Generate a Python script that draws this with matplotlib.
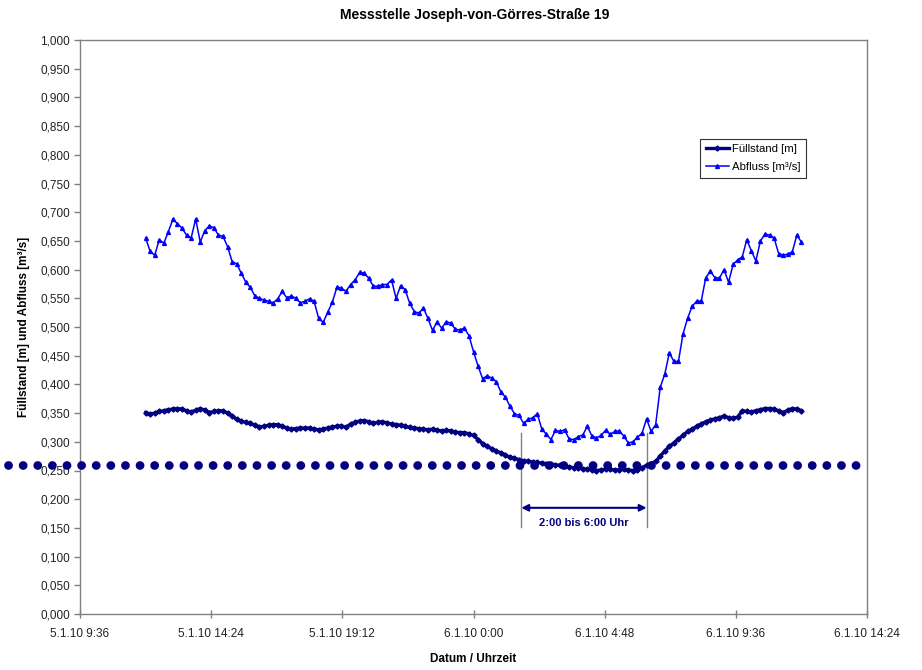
import numpy as np
import pandas as pd
import matplotlib
matplotlib.use("Agg")
import matplotlib.pyplot as plt
from matplotlib.ticker import FuncFormatter

plt.rcParams["font.family"] = ["Liberation Sans", "DejaVu Sans"]

# Messwerte im 10-Minuten-Raster, 5.1.10 12:00 bis 6.1.10 12:00
zeit = pd.date_range("2010-01-05 12:00", periods=145, freq="10min")

fuellstand = [
    0.351, 0.348, 0.350, 0.353, 0.354, 0.356, 0.357, 0.358, 0.357, 0.354,
    0.352, 0.355, 0.358, 0.355, 0.351, 0.353, 0.354, 0.354, 0.350, 0.345,
    0.339, 0.336, 0.334, 0.332, 0.329, 0.326, 0.327, 0.329, 0.330, 0.330,
    0.327, 0.324, 0.322, 0.323, 0.324, 0.324, 0.324, 0.322, 0.321, 0.322,
    0.324, 0.326, 0.327, 0.328, 0.325, 0.331, 0.334, 0.336, 0.337, 0.335,
    0.332, 0.334, 0.335, 0.333, 0.331, 0.330, 0.329, 0.327, 0.325, 0.324,
    0.323, 0.322, 0.321, 0.322, 0.320, 0.319, 0.320, 0.319, 0.317, 0.316,
    0.316, 0.314, 0.311, 0.304, 0.297, 0.292, 0.288, 0.284, 0.281, 0.277,
    0.273, 0.271, 0.269, 0.267, 0.266, 0.265, 0.264, 0.263, 0.262, 0.261,
    0.260, 0.259, 0.258, 0.256, 0.255, 0.254, 0.253, 0.252, 0.251, 0.250,
    0.251, 0.252, 0.252, 0.251, 0.251, 0.252, 0.251, 0.250, 0.251, 0.255,
    0.259, 0.262, 0.266, 0.275, 0.284, 0.292, 0.298, 0.305, 0.311, 0.318,
    0.322, 0.327, 0.331, 0.335, 0.338, 0.340, 0.342, 0.345, 0.342, 0.341,
    0.343, 0.354, 0.353, 0.352, 0.354, 0.356, 0.358, 0.358, 0.357, 0.354,
    0.351, 0.355, 0.358, 0.357, 0.354,
]

abfluss = [
    0.655, 0.632, 0.625, 0.652, 0.646, 0.666, 0.688, 0.680, 0.672, 0.660,
    0.655, 0.688, 0.648, 0.668, 0.676, 0.673, 0.660, 0.658, 0.640, 0.614,
    0.610, 0.594, 0.578, 0.569, 0.554, 0.550, 0.547, 0.545, 0.542, 0.549,
    0.562, 0.551, 0.554, 0.550, 0.542, 0.545, 0.549, 0.545, 0.515, 0.508,
    0.526, 0.543, 0.569, 0.568, 0.562, 0.574, 0.582, 0.595, 0.594, 0.585,
    0.571, 0.571, 0.574, 0.574, 0.582, 0.550, 0.572, 0.565, 0.541, 0.527,
    0.524, 0.533, 0.515, 0.494, 0.509, 0.498, 0.509, 0.507, 0.496, 0.495,
    0.498, 0.485, 0.457, 0.432, 0.410, 0.415, 0.411, 0.405, 0.387, 0.378,
    0.362, 0.349, 0.346, 0.332, 0.339, 0.342, 0.349, 0.322, 0.313, 0.304,
    0.320, 0.318, 0.321, 0.305, 0.304, 0.309, 0.312, 0.327, 0.310, 0.307,
    0.311, 0.320, 0.313, 0.318, 0.319, 0.310, 0.298, 0.300, 0.308, 0.315,
    0.340, 0.318, 0.330, 0.395, 0.418, 0.455, 0.440, 0.440, 0.488, 0.515,
    0.536, 0.545, 0.545, 0.586, 0.597, 0.586, 0.585, 0.600, 0.578, 0.609,
    0.617, 0.622, 0.652, 0.633, 0.615, 0.650, 0.662, 0.660, 0.655, 0.628,
    0.625, 0.627, 0.631, 0.660, 0.648,
]

grenzwert = 0.26

tick_zeiten = pd.to_datetime([
    "2010-01-05 09:36", "2010-01-05 14:24", "2010-01-05 19:12",
    "2010-01-06 00:00", "2010-01-06 04:48", "2010-01-06 09:36",
    "2010-01-06 14:24",
])
tick_labels = ["5.1.10 9:36", "5.1.10 14:24", "5.1.10 19:12", "6.1.10 0:00",
               "6.1.10 4:48", "6.1.10 9:36", "6.1.10 14:24"]

nacht_start = pd.Timestamp("2010-01-06 01:45")
nacht_ende = pd.Timestamp("2010-01-06 06:20")

navy = "#000080"
blau = "#0000ff"
grau = "#808080"

fig = plt.figure(figsize=(9.22, 6.70), dpi=100)
ax = fig.add_axes([80 / 922, 56 / 670, 787 / 922, 574 / 670])

ax.plot(zeit, fuellstand, color=navy, lw=2.4, marker="D", ms=2.6,
        label="Füllstand [m]")
ax.plot(zeit, abfluss, color=blau, lw=1.1, marker="^", ms=2.8,
        label="Abfluss [m³/s]")

# gepunktete Grenzlinie, ragt links über die Achse hinaus
trans = matplotlib.transforms.blended_transform_factory(ax.transAxes, ax.transData)
ax.plot([-0.091, 0.994], [grenzwert, grenzwert], transform=trans, color=navy,
        lw=6.3, linestyle=(0, (0.01, 1.66)), dash_capstyle="round",
        clip_on=False, zorder=3)

# Nachtzeitraum markieren
for t in (nacht_start, nacht_ende):
    ax.plot([t, t], [0.152, 0.315], color=grau, lw=1.0, zorder=1)
ax.annotate("", xy=(nacht_ende, 0.185), xytext=(nacht_start, 0.185),
            arrowprops=dict(arrowstyle="<|-|>", color=navy, lw=1.5,
                            mutation_scale=10, shrinkA=0, shrinkB=0))
mitte = nacht_start + (nacht_ende - nacht_start) / 2
ax.text(mitte, 0.158, "2:00 bis 6:00 Uhr", color=navy, fontsize=8,
        fontweight="bold", ha="center", va="center")

ax.set_xlim(tick_zeiten[0], tick_zeiten[-1])
ax.set_ylim(0, 1)
ax.set_xticks(tick_zeiten)
ax.set_xticklabels(tick_labels)
ax.set_yticks(np.arange(0, 1.001, 0.05))
ax.yaxis.set_major_formatter(FuncFormatter(lambda v, p: f"{v:.3f}".replace(".", ",")))

ax.tick_params(axis="x", direction="inout", length=6, width=1, color=grau,
               labelsize=8.5, labelcolor="#222222", pad=7)
ax.tick_params(axis="y", direction="out", length=4, width=1, color=grau,
               labelsize=8.5, labelcolor="#222222", pad=3)
for s in ax.spines.values():
    s.set_color(grau)
    s.set_linewidth(1.0)

ax.set_xlabel("Datum / Uhrzeit", fontsize=8.5, fontweight="bold")
ax.set_ylabel("Füllstand [m] und Abfluss [m³/s]", fontsize=8.5, fontweight="bold")
ax.xaxis.set_label_coords(0.5, -0.068)
ax.yaxis.set_label_coords(-0.063, 0.5)

fig.text(475 / 922, 1 - 15 / 670, "Messstelle Joseph-von-Görres-Straße 19",
         fontsize=10, fontweight="bold", ha="center", va="center")

leg = ax.legend(loc="upper left", bbox_to_anchor=(0.788, 0.828), fontsize=8.2,
                frameon=True, fancybox=False, edgecolor="#333333",
                framealpha=1, handlelength=2.0, borderpad=0.5,
                labelspacing=0.65, handletextpad=0.3, borderaxespad=0)
leg.get_frame().set_linewidth(0.8)

fig.savefig("out.png", dpi=100)
